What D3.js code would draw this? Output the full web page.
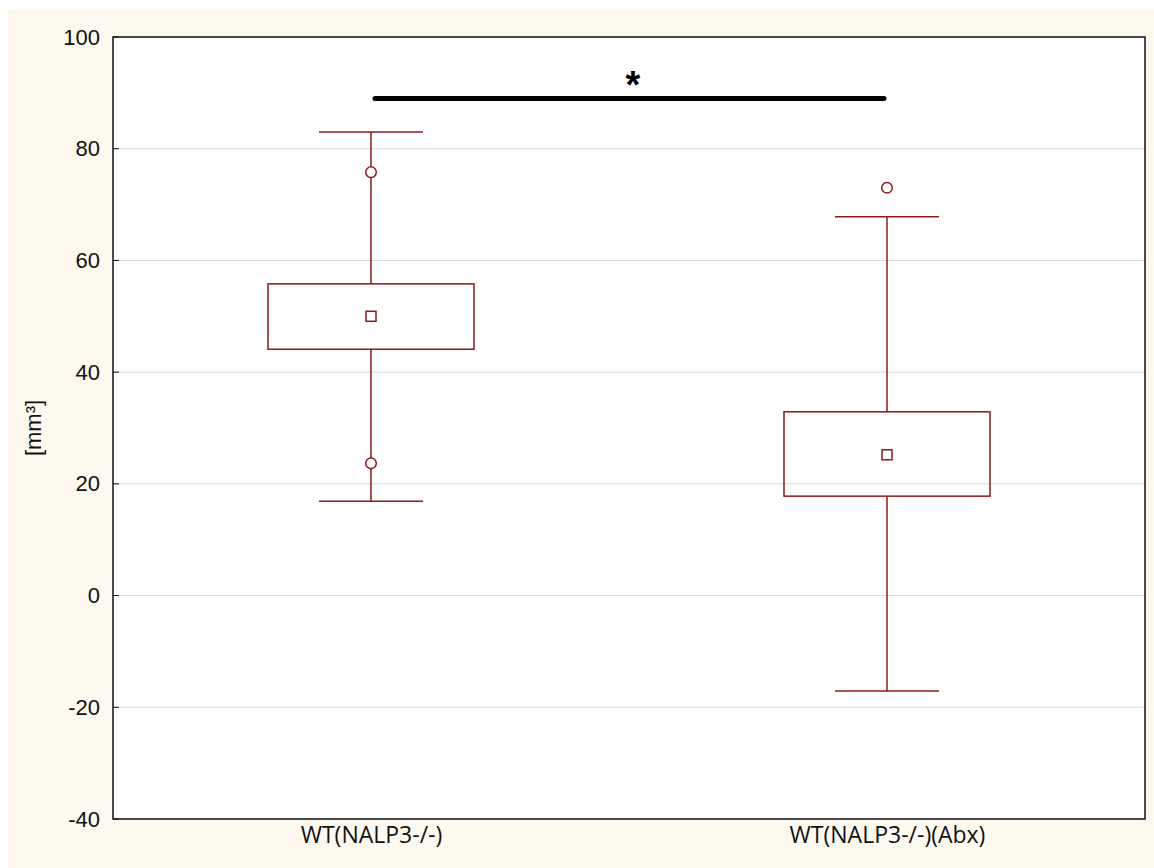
<!DOCTYPE html>
<html><head><meta charset="utf-8">
<script src="https://cdn.jsdelivr.net/npm/d3@7"></script>
<style>body{margin:0;background:#fff}</style>
</head><body>
<svg id="chart" width="1154" height="868"></svg>
<script>
const categories = ["WT(NALP3-/-)", "WT(NALP3-/-)(Abx)"];
const whiskerLow = [16.9, -17.1];
const boxLow = [44.1, 17.8];
const boxHigh = [55.8, 32.9];
const whiskerHigh = [83.0, 67.8];
const means = [50.0, 25.2];
const outliers = [[75.8, 23.7], [73.0]];
const yTicks = [-40, -20, 0, 20, 40, 60, 80, 100];
const sigLevel = 89;
const sigLabel = "*";

const svg = d3.select("#chart");
const L = 113, R = 1145, T = 37, B = 819;
const col = "#8c1a1a";

svg.append("rect").attr("x", 8).attr("y", 9).attr("width", 1146).attr("height", 859).attr("fill", "#fdf9ef");
svg.append("rect").attr("x", L).attr("y", T).attr("width", R - L).attr("height", B - T).attr("fill", "#fff");

const y = d3.scaleLinear().domain([-40, 100]).range([B, T]);
const x = d3.scalePoint().domain(categories).range([L, R]).padding(0.5);

// gridlines
svg.append("g").selectAll("line").data(yTicks.filter(t => t > -40 && t < 100)).join("line")
  .attr("x1", L).attr("x2", R).attr("y1", d => y(d)).attr("y2", d => y(d))
  .attr("stroke", "#d9d9d9").attr("stroke-width", 1);

// y axis labels
const yAxis = d3.axisLeft(y).tickValues(yTicks).tickSize(0).tickPadding(13).tickFormat(d => String(d));
const gy = svg.append("g").attr("transform", `translate(${L},0)`).call(yAxis);
gy.select(".domain").remove();
gy.selectAll("text").style("font-family", "'Liberation Sans', Arial, sans-serif").style("font-size", "22px").attr("fill", "#111");
// inner ticks
svg.append("g").selectAll("line").data(yTicks).join("line")
  .attr("x1", L).attr("x2", L + 6).attr("y1", d => y(d)).attr("y2", d => y(d))
  .attr("stroke", "#111").attr("stroke-width", 1);

// x axis labels
const xAxis = d3.axisBottom(x).tickSize(0).tickPadding(8);
const gx = svg.append("g").attr("transform", `translate(0,${B})`).call(xAxis);
gx.select(".domain").remove();
gx.selectAll("text").style("font-family", "'Open Sans', 'Noto Sans', sans-serif").style("font-size", "23px").attr("fill", "#111");

// y title
svg.append("text").attr("transform", "translate(41,428) rotate(-90)").attr("text-anchor", "middle")
  .style("font-family", "'Liberation Sans', Arial, sans-serif").style("font-size", "22px").attr("fill", "#111").text("[mm³]");

const boxW = 206, capW = 104;
const g = svg.append("g");
categories.forEach((c, i) => {
  const cx = x(c);
  g.append("line").attr("x1", cx).attr("x2", cx).attr("y1", y(whiskerHigh[i])).attr("y2", y(boxHigh[i])).attr("stroke", col).attr("stroke-width", 1.5);
  g.append("line").attr("x1", cx).attr("x2", cx).attr("y1", y(boxLow[i])).attr("y2", y(whiskerLow[i])).attr("stroke", col).attr("stroke-width", 1.5);
  [whiskerHigh[i], whiskerLow[i]].forEach(v => {
    g.append("line").attr("x1", cx - capW / 2).attr("x2", cx + capW / 2).attr("y1", y(v)).attr("y2", y(v)).attr("stroke", col).attr("stroke-width", 1.5);
  });
  g.append("rect").attr("x", cx - boxW / 2).attr("y", y(boxHigh[i])).attr("width", boxW)
    .attr("height", y(boxLow[i]) - y(boxHigh[i])).attr("fill", "none").attr("stroke", col).attr("stroke-width", 1.5);
  g.append("rect").attr("x", cx - 5).attr("y", y(means[i]) - 5).attr("width", 10).attr("height", 10)
    .attr("fill", "#fff").attr("stroke", col).attr("stroke-width", 1.5);
  outliers[i].forEach(v => {
    g.append("circle").attr("cx", cx).attr("cy", y(v)).attr("r", 5.3).attr("fill", "#fff").attr("stroke", col).attr("stroke-width", 1.5);
  });
});

// significance bar
svg.append("line").attr("x1", x(categories[0]) + 4).attr("x2", x(categories[1]) - 3)
  .attr("y1", y(sigLevel)).attr("y2", y(sigLevel)).attr("stroke", "#000").attr("stroke-width", 5).attr("stroke-linecap", "round");
svg.append("text").attr("x", 633).attr("y", y(sigLevel))
  .attr("text-anchor", "middle").style("font-family", "'Liberation Sans', Arial, sans-serif").style("font-weight", "bold")
  .style("font-size", "38px").attr("fill", "#000").text(sigLabel);

// border
svg.append("rect").attr("x", L).attr("y", T).attr("width", R - L).attr("height", B - T).attr("fill", "none").attr("stroke", "#111").attr("stroke-width", 1.5);
</script>
</body></html>
